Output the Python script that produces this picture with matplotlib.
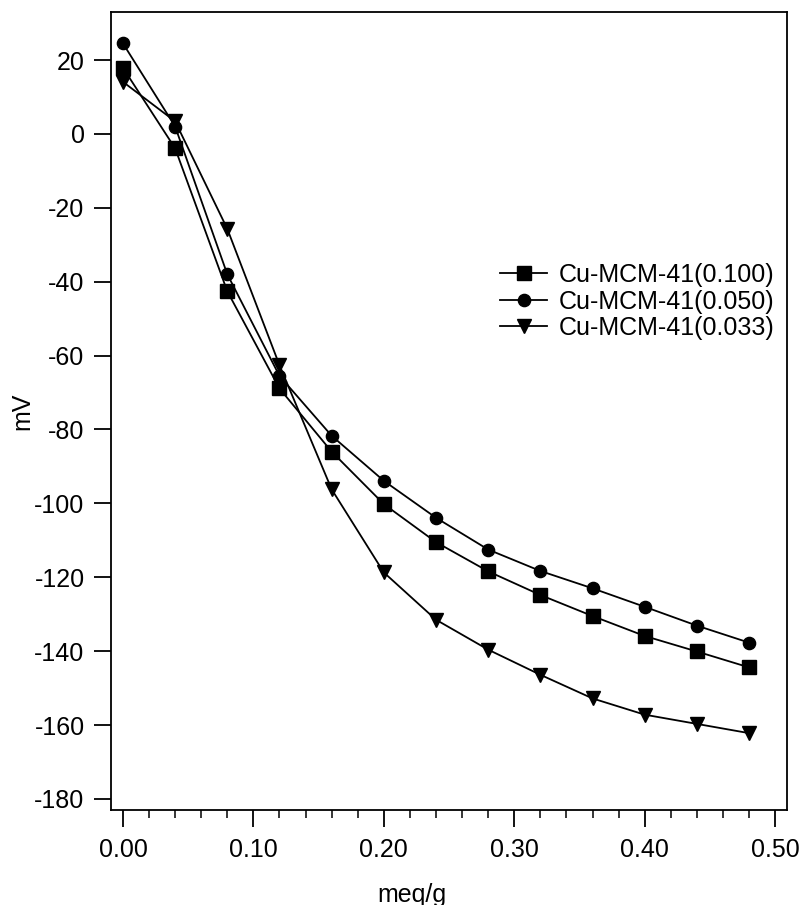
import matplotlib
matplotlib.use("Agg")
import matplotlib.pyplot as plt
from matplotlib.ticker import MultipleLocator

plt.rcParams["font.family"] = ["Liberation Sans", "DejaVu Sans"]

loading = [0.00, 0.04, 0.08, 0.12, 0.16, 0.20, 0.24, 0.28, 0.32, 0.36, 0.40, 0.44, 0.48]
mv_0100 = [17.9, -3.9, -42.6, -68.9, -86.0, -100.2, -110.5, -118.4, -124.8, -130.5, -135.9, -140.1, -144.4]
mv_0050 = [24.5, 2.0, -38.0, -65.5, -81.7, -93.9, -103.9, -112.5, -118.3, -123.0, -128.0, -133.1, -137.7]
mv_0033 = [14.1, 3.4, -25.7, -62.6, -96.2, -118.7, -131.5, -139.6, -146.4, -152.8, -157.2, -159.7, -162.2]
labels = ["Cu-MCM-41(0.100)", "Cu-MCM-41(0.050)", "Cu-MCM-41(0.033)"]

fig = plt.figure(figsize=(8.03, 9.05), dpi=100)
ax = fig.add_axes([0.1382, 0.105, 0.842, 0.8817])

ax.plot(loading, mv_0100, color="black", lw=1.3, marker="s", ms=9.4, label=labels[0])
ax.plot(loading, mv_0050, color="black", lw=1.3, marker="o", ms=8.8, label=labels[1])
ax.plot(loading, mv_0033, color="black", lw=1.3, marker="v", ms=9.5, label=labels[2])

ax.set_xlim(-0.0092, 0.5092)
ax.set_ylim(-183, 33)
ax.xaxis.set_major_locator(MultipleLocator(0.1))
ax.xaxis.set_minor_locator(MultipleLocator(0.02))
ax.yaxis.set_major_locator(MultipleLocator(20))
ax.xaxis.set_major_formatter(plt.FuncFormatter(lambda v, p: f"{v:.2f}"))
ax.yaxis.set_major_formatter(plt.FuncFormatter(lambda v, p: f"{v:.0f}"))

for s in ax.spines.values():
    s.set_linewidth(1.3)
ax.tick_params(axis="both", which="major", direction="out", length=12, width=1.3,
               labelsize=18, pad=7)
ax.tick_params(axis="x", which="minor", direction="out", length=6, width=1.1)
ax.tick_params(axis="x", which="major", pad=8)

ax.set_xlabel("meq/g", fontsize=18)
ax.set_ylabel("mV", fontsize=18)
ax.xaxis.set_label_coords(0.445, -0.091)
ax.yaxis.set_label_coords(-0.114, 0.5)

ax.legend(loc="upper left", bbox_to_anchor=(500 / 803, 1 - 263 / 905),
          bbox_transform=fig.transFigure, frameon=False, fontsize=18,
          borderpad=0, borderaxespad=0, handlelength=1.9, handletextpad=0.45,
          labelspacing=0.1)

fig.savefig("out.png", dpi=100)
